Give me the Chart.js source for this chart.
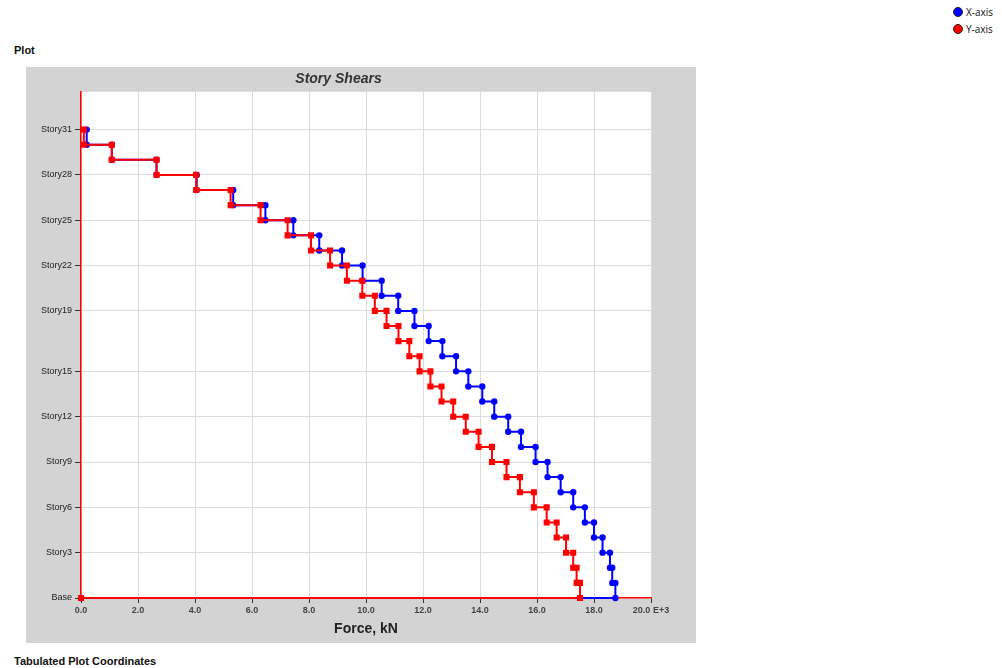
<!DOCTYPE html>
<html>
<head>
<meta charset="utf-8">
<script src="https://cdn.jsdelivr.net/npm/chart.js@4"></script>
<style>
    body { margin: 0; background: #fff; font-family: "Liberation Sans", Arial, sans-serif; }
    #page { position: relative; width: 1002px; height: 668px; overflow: hidden; }
    .heading { position: absolute; left: 14px; font-size: 11px; font-weight: bold; color: #111; }
    #panel { position: absolute; left: 26px; top: 67px; width: 670px; height: 576px; background: #d3d3d3; }
    #legend { position: absolute; left: 953px; top: 5px; font-family: "Open Sans", sans-serif; font-size: 10px; color: #111; }
    #legend div { height: 17px; line-height: 15px; white-space: nowrap; }
    #legend span.dot { display: inline-block; width: 10px; height: 10px; border-radius: 50%; margin-right: 3px; vertical-align: -1px; box-sizing: border-box; border: 1px solid #222; }
</style>
</head>
<body>
<div id="page">
    <div id="legend"></div>
    <div class="heading" style="top:44px">Plot</div>
    <div id="panel"><canvas id="chart" width="670" height="576"></canvas></div>
    <div class="heading" style="top:655px">Tabulated Plot Coordinates</div>
</div>
<script>
// story shear per level, Story31 down to Story1 (E+3 kN)
const storyNums = [31, 30, 29, 28, 27, 26, 25, 24, 23, 22, 21, 20, 19, 18, 17, 16,
                   15, 14, 13, 12, 11, 10, 9, 8, 7, 6, 5, 4, 3, 2, 1];
const shearX = [0.20, 1.08, 2.65, 4.06, 5.34, 6.47, 7.45, 8.36, 9.16, 9.88, 10.55, 11.13, 11.70, 12.20, 12.68, 13.16,
                13.59, 14.08, 14.50, 14.99, 15.44, 15.95, 16.37, 16.83, 17.27, 17.68, 18.00, 18.30, 18.56, 18.64, 18.75];
const shearY = [0.10, 1.08, 2.65, 4.04, 5.25, 6.30, 7.25, 8.07, 8.74, 9.33, 9.87, 10.31, 10.72, 11.14, 11.52, 11.88,
                12.26, 12.65, 13.06, 13.50, 13.95, 14.42, 14.93, 15.40, 15.89, 16.34, 16.69, 17.02, 17.27, 17.39, 17.51];

const yTickValues = [0, 3, 6, 9, 12, 15, 19, 22, 25, 28, 31];
const yTickLabels = ['Base', 'Story3', 'Story6', 'Story9', 'Story12', 'Story15', 'Story19', 'Story22', 'Story25', 'Story28', 'Story31'];
const xTickValues = [0, 2, 4, 6, 8, 10, 12, 14, 16, 18, 20];
const xTickLabels = ['0.0', '2.0', '4.0', '6.0', '8.0', '10.0', '12.0', '14.0', '16.0', '18.0', '20.0 E+3'];

function stepPoints(shears) {
    const pts = [];
    shears.forEach((v, i) => {
        pts.push({ x: v, y: storyNums[i] });
        pts.push({ x: v, y: storyNums[i] - 1 });
    });
    pts.push({ x: 0, y: 0 });
    return pts;
}

const datasets = [
    {
        label: 'X-axis',
        data: stepPoints(shearX),
        borderColor: '#0000ff',
        backgroundColor: '#0000ff',
        pointStyle: 'circle',
        pointRadius: 3.2,
        pointBorderWidth: 0,
        borderWidth: 2,
        showLine: true,
        clip: 6,
        order: 2
    },
    {
        label: 'Y-axis',
        data: stepPoints(shearY),
        borderColor: '#ff0000',
        backgroundColor: '#ff0000',
        pointStyle: 'rect',
        pointRadius: 4.3,
        pointBorderWidth: 0,
        borderWidth: 2,
        showLine: true,
        clip: 6,
        order: 1
    }
];

// legend sits at the page's top right corner
const legendEl = document.getElementById('legend');
datasets.forEach(ds => {
    const row = document.createElement('div');
    row.innerHTML = '<span class="dot" style="background:' + ds.borderColor + '"></span>' + ds.label;
    legendEl.appendChild(row);
});

// white plot area on the grey panel
const plotBackground = {
    id: 'plotBackground',
    beforeDraw(chart) {
        const a = chart.chartArea;
        chart.ctx.save();
        chart.ctx.fillStyle = '#ffffff';
        chart.ctx.fillRect(a.left, a.top, a.right - a.left, a.bottom - a.top);
        chart.ctx.restore();
    }
};

const tickFont = { family: 'Liberation Sans, Arial', size: 9, weight: 'bold' };

new Chart(document.getElementById('chart').getContext('2d'), {
    type: 'scatter',
    data: { datasets: datasets },
    plugins: [plotBackground],
    options: {
        responsive: false,
        animation: false,
        layout: { padding: { left: 0, right: 45, top: 0, bottom: 0 } },
        plugins: {
            legend: { display: false },
            tooltip: { enabled: false },
            title: {
                display: true,
                text: 'Story Shears',
                color: '#333',
                font: { family: 'Liberation Sans, Arial', size: 14, weight: 'bold', style: 'italic' },
                padding: { top: 4, bottom: 4 }
            }
        },
        scales: {
            x: {
                type: 'linear',
                min: 0,
                max: 20,
                afterBuildTicks: s => { s.ticks = xTickValues.map(v => ({ value: v })); },
                afterFit: s => { s.height = 45; },
                ticks: {
                    autoSkip: false,
                    maxRotation: 0,
                    padding: 2,
                    color: '#444',
                    font: tickFont,
                    callback: v => xTickLabels[xTickValues.indexOf(v)]
                },
                grid: { color: '#dcdcdc', tickColor: '#333', tickLength: 5, lineWidth: 1 },
                border: { color: '#ff0000', width: 1.5 },
                title: {
                    display: true,
                    text: 'Force, kN',
                    color: '#222',
                    font: { family: 'Liberation Sans, Arial', size: 14, weight: 'bold' },
                    padding: { top: 0, bottom: 5 }
                }
            },
            y: {
                type: 'linear',
                min: 0,
                max: 33.5,
                afterBuildTicks: s => { s.ticks = yTickValues.map(v => ({ value: v })); },
                afterFit: s => { s.width = 55; },
                ticks: {
                    autoSkip: false,
                    padding: 3,
                    color: '#222',
                    font: { family: 'Liberation Sans, Arial', size: 9 },
                    callback: v => yTickLabels[yTickValues.indexOf(v)]
                },
                grid: { color: '#dcdcdc', tickColor: '#333', tickLength: 6, lineWidth: 1 },
                border: { color: '#ff0000', width: 1.5 }
            }
        }
    }
});
</script>
</body>
</html>
